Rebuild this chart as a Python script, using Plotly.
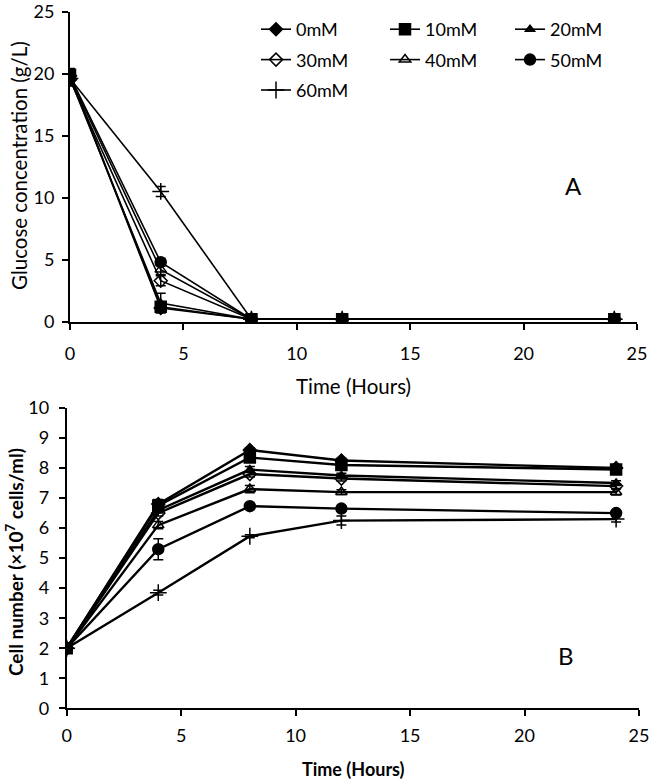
import plotly.graph_objects as go

time_h = [0, 4, 8, 12, 24]
series_names = ["0mM", "10mM", "20mM", "30mM", "40mM", "50mM", "60mM"]
symbols = ["diamond", "square", "triangle-up", "diamond-open", "triangle-up-open", "circle", "cross-thin"]
msizes = [10, 11, 8, 10, 10, 11, 12]
legend_ids = ["legend", "legend2", "legend3", "legend", "legend2", "legend3", "legend"]

# Panel A: glucose concentration (g/L)
glucose = {
    "0mM": [19.8, 1.1, 0.2, 0.2, 0.2],
    "10mM": [19.9, 1.2, 0.2, 0.2, 0.2],
    "20mM": [19.6, 1.5, 0.2, 0.2, 0.2],
    "30mM": [19.5, 3.3, 0.2, 0.2, 0.2],
    "40mM": [19.7, 4.2, 0.2, 0.2, 0.2],
    "50mM": [19.8, 4.8, 0.2, 0.2, 0.2],
    "60mM": [19.6, 10.5, 0.2, 0.2, 0.2],
}
glucose_err = {
    "0mM": [0.5, 0.2, 0.1, 0.1, 0.1],
    "10mM": [0.5, 0.3, 0.1, 0.1, 0.1],
    "20mM": [0.5, 0.8, 0.1, 0.1, 0.1],
    "30mM": [0.5, 0.4, 0.1, 0.1, 0.1],
    "40mM": [0.5, 0.4, 0.1, 0.1, 0.1],
    "50mM": [0.5, 0.3, 0.1, 0.1, 0.1],
    "60mM": [0.5, 0.4, 0.1, 0.1, 0.1],
}

# Panel B: cell number (x10^7 cells/ml)
cells = {
    "0mM": [2.0, 6.8, 8.6, 8.25, 8.0],
    "10mM": [2.0, 6.75, 8.35, 8.1, 7.95],
    "20mM": [2.0, 6.6, 7.95, 7.75, 7.5],
    "30mM": [2.0, 6.5, 7.8, 7.65, 7.4],
    "40mM": [2.0, 6.1, 7.3, 7.2, 7.2],
    "50mM": [2.0, 5.3, 6.73, 6.65, 6.5],
    "60mM": [2.0, 3.85, 5.73, 6.25, 6.3],
}
cells_err = {
    "0mM": [0.05, 0.15, 0.08, 0.08, 0.08],
    "10mM": [0.05, 0.1, 0.08, 0.08, 0.08],
    "20mM": [0.05, 0.1, 0.1, 0.08, 0.08],
    "30mM": [0.05, 0.1, 0.1, 0.08, 0.08],
    "40mM": [0.05, 0.12, 0.12, 0.08, 0.1],
    "50mM": [0.05, 0.35, 0.1, 0.08, 0.08],
    "60mM": [0.05, 0.08, 0.05, 0.15, 0.1],
}

FONT = "Lato, 'Open Sans', sans-serif"
fig = go.Figure()

for i, name in enumerate(series_names):
    fig.add_trace(go.Scatter(
        x=time_h, y=glucose[name], name=name, mode="lines+markers",
        line=dict(color="black", width=1.6),
        marker=dict(symbol=symbols[i], size=msizes[i], color="black",
                    line=dict(color="black", width=1.5)),
        error_y=dict(type="data", array=glucose_err[name], color="black", thickness=1.5, width=5),
        xaxis="x", yaxis="y", legend=legend_ids[i], legendgroup=name,
    ))

for i, name in enumerate(series_names):
    fig.add_trace(go.Scatter(
        x=time_h, y=cells[name], name=name, mode="lines+markers", showlegend=False,
        line=dict(color="black", width=2.4),
        marker=dict(symbol=symbols[i], size=msizes[i], color="black",
                    line=dict(color="black", width=1.5)),
        error_y=dict(type="data", array=cells_err[name], color="black", thickness=1.5, width=5),
        xaxis="x2", yaxis="y2",
    ))

W, H = 652, 779


def px(x):
    return x / W


def py(y):
    return 1 - y / H


axis_common = dict(showline=True, linecolor="black", linewidth=2, ticks="outside",
                   ticklen=6, tickwidth=1.5, tickcolor="black", showgrid=False,
                   zeroline=False, automargin=False, ticklabeloverflow="allow",
                   tickfont=dict(family=FONT, size=18, color="black"))

fig.update_layout(
    template="none",
    width=W, height=H, margin=dict(l=0, r=0, t=0, b=0, autoexpand=False),
    paper_bgcolor="white", plot_bgcolor="white",
    font=dict(family=FONT, color="black"),
    xaxis=dict(domain=[px(70), px(637)], range=[0, 25], tickvals=[0, 5, 10, 15, 20, 25],
               anchor="y", ticklabelstandoff=9, **axis_common),
    yaxis=dict(domain=[py(321.7), py(11.5)], range=[0, 25], tickvals=[0, 5, 10, 15, 20, 25],
               anchor="x", ticklabelstandoff=4, **axis_common),
    xaxis2=dict(domain=[px(66.7), px(639)], range=[0, 25], tickvals=[0, 5, 10, 15, 20, 25],
                anchor="y2", ticklabelstandoff=4, **axis_common),
    yaxis2=dict(domain=[py(708.3), py(408)], range=[0, 10], tickvals=list(range(11)),
                anchor="x2", ticklabelstandoff=6, **axis_common),
)

legend_common = dict(font=dict(family=FONT, size=18, color="black"), bgcolor="rgba(0,0,0,0)",
                     yanchor="top", xanchor="left", tracegroupgap=4, itemwidth=30)
fig.update_layout(
    legend=dict(x=px(256), y=py(11), **legend_common),
    legend2=dict(x=px(385), y=py(11), **legend_common),
    legend3=dict(x=px(510), y=py(11), **legend_common),
)

annotations = [
    dict(text="Glucose concentration (g/L)", x=px(19), y=py(166), textangle=-90,
         font=dict(size=20.5)),
    dict(text="Time (Hours)", x=px(353), y=py(386), font=dict(size=20.5)),
    dict(text="<b>Cell number (×10<sup>7</sup> cells/ml)</b>", x=px(14), y=py(562),
         textangle=-90, font=dict(size=19)),
    dict(text="<b>Time (Hours)</b>", x=px(353), y=py(769), font=dict(size=18)),
    dict(text="A", x=22.2, y=11.0, xref="x", yref="y", font=dict(size=24)),
    dict(text="B", x=21.8, y=1.75, xref="x2", yref="y2", font=dict(size=24)),
]
for a in annotations:
    a.setdefault("xref", "paper")
    a.setdefault("yref", "paper")
    a["showarrow"] = False
    a["xanchor"] = "center"
    a["yanchor"] = "middle"
    a["font"]["family"] = FONT
    a["font"]["color"] = "black"
fig.update_layout(annotations=annotations)

# remove the default 8px page margin so the figure sits at the window's top-left corner
fig.write_html("out.html", config={"displayModeBar": False},
               post_script="document.body.style.margin='0px';")
